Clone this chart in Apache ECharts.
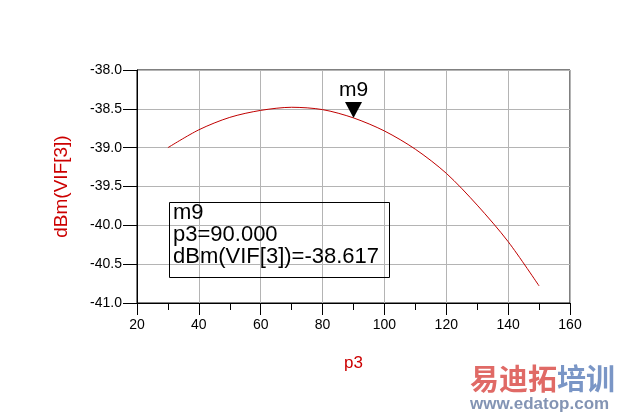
<!DOCTYPE html>
<html>
<head>
<meta charset="utf-8">
<script src="https://cdn.jsdelivr.net/npm/echarts@6/dist/echarts.min.js"></script>
<style>
html,body{margin:0;padding:0;background:#fff;}
#c{width:623px;height:415px;}
</style>
</head>
<body>
<div id="c"></div>
<script>
// data
const p3 = [30, 40, 50, 60, 70, 80, 90, 100, 110, 120, 130, 140, 150];
const vif = [-39.00, -38.77, -38.61, -38.52, -38.48, -38.51, -38.617, -38.785, -39.02, -39.33, -39.74, -40.21, -40.78];
const markerX = 90;
const markerY = -38.617;
const markerName = 'm9';
const markerLines = ['m9', 'p3=90.000', 'dBm(VIF[3])=-38.617'];

const FONT = 'Liberation Sans, Arial, sans-serif';
const chart = echarts.init(document.getElementById('c'), null, {renderer: 'canvas'});
chart.setOption({
  animation: false,
  backgroundColor: '#fff',
  grid: {left: 137, right: 53, top: 70, bottom: 112, show: true, borderColor: '#000', borderWidth: 1, containLabel: false},
  xAxis: {
    type: 'value', min: 20, max: 160, interval: 20,
    name: 'p3', nameLocation: 'middle', nameGap: 52,
    nameTextStyle: {color: '#cc0000', fontSize: 17, fontFamily: FONT},
    axisLine: {lineStyle: {color: '#000', width: 1}},
    axisTick: {show: true, length: 12, lineStyle: {color: '#000'}},
    minorTick: {show: true, splitNumber: 2, length: 7, lineStyle: {color: '#000'}},
    axisLabel: {color: '#000', fontSize: 14, fontFamily: FONT, margin: 15},
    splitLine: {show: true, lineStyle: {color: '#b4b4b4', width: 1}}
  },
  yAxis: {
    type: 'value', min: -41, max: -38, interval: 0.5,
    name: 'dBm(VIF[3])', nameLocation: 'middle', nameGap: 66,
    nameTextStyle: {color: '#cc0000', fontSize: 19, fontFamily: FONT},
    axisLine: {show: true, lineStyle: {color: '#000', width: 1}},
    axisTick: {show: true, length: 14, lineStyle: {color: '#000'}},
    axisLabel: {color: '#000', fontSize: 14, fontFamily: FONT, margin: 15, formatter: v => v.toFixed(1)},
    splitLine: {show: true, lineStyle: {color: '#b4b4b4', width: 1}}
  },
  series: [
    {
      type: 'line',
      data: p3.map((x, i) => [x, vif[i]]),
      smooth: 0.3,
      showSymbol: false,
      lineStyle: {color: '#c00000', width: 1}
    },
    {
      type: 'scatter',
      data: [[markerX, markerY]],
      symbol: 'path://M0,0 L2,0 L1,2 Z',
      symbolSize: [17, 16],
      symbolOffset: [0, '-50%'],
      itemStyle: {color: '#000', opacity: 1},
      label: {show: true, position: 'top', distance: 1, formatter: markerName, color: '#000', opacity: 1, fontSize: 21, fontFamily: FONT},
      z: 5
    }
  ],
  graphic: [
    {type: 'rect', left: 169, top: 202, shape: {width: 220, height: 75}, style: {fill: 'transparent', stroke: '#000', lineWidth: 1}, z: 10},
    {type: 'text', left: 173, top: 202, style: {text: markerLines.join('\n'), font: '22px ' + FONT, fill: '#000', lineHeight: 22}, z: 11},
    {type: 'text', left: 470, top: 364, style: {text: '{r|易迪拓}{b|培训}', rich: {r: {fill: '#e06a66', font: 'bold 29px "Noto Sans CJK SC"'}, b: {fill: '#7a96c6', font: 'bold 29px "Noto Sans CJK SC"'}}}, z: 11},
    {type: 'text', left: 470, top: 396, style: {text: 'www.edatop.com', fill: '#8394b4', font: 'bold 17px ' + FONT}, z: 11}
  ]
});
</script>
</body>
</html>
